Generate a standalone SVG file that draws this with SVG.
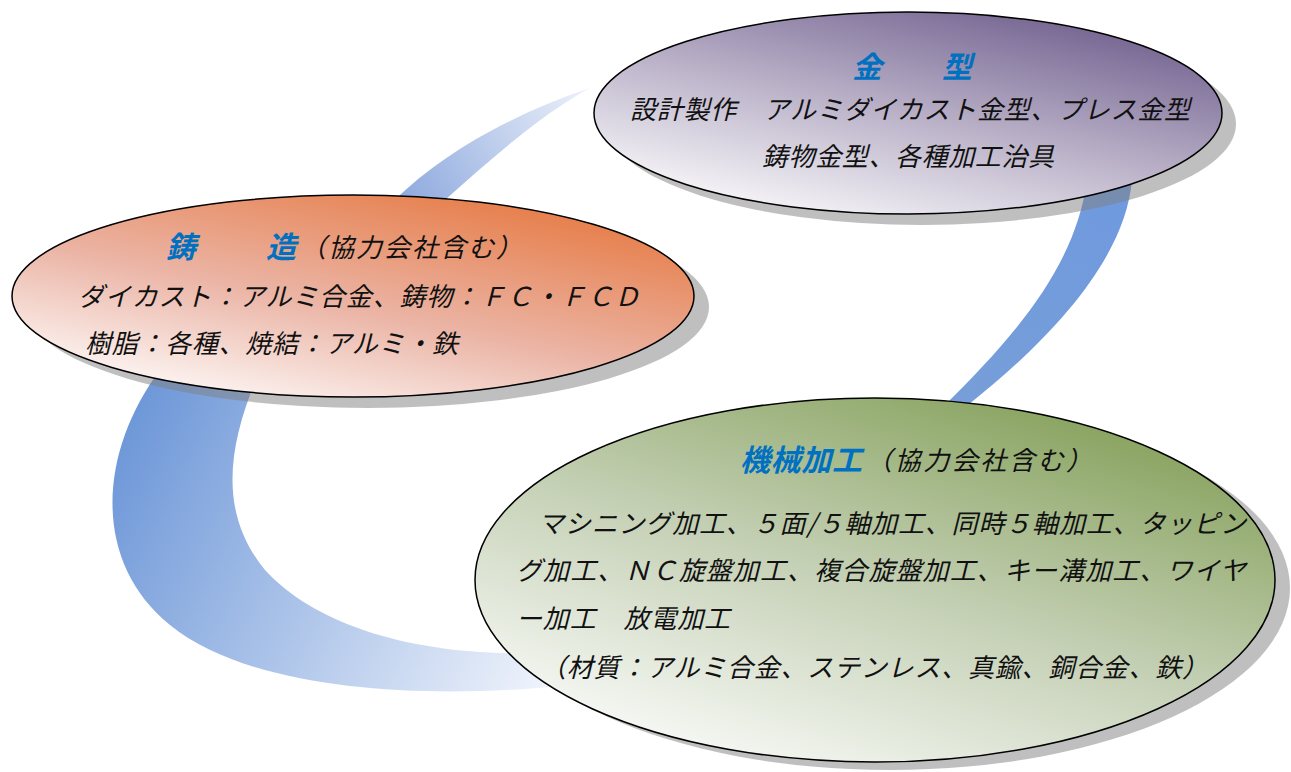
<svg xmlns="http://www.w3.org/2000/svg" width="1291" height="772" viewBox="0 0 1291 772">
<defs>
<linearGradient id="gPurple" x1="0.15" y1="1" x2="0.85" y2="0">
<stop offset="0" stop-color="#ffffff"/>
<stop offset="0.5" stop-color="#b9b0c7"/>
<stop offset="1" stop-color="#6b5a8a"/>
</linearGradient>
<linearGradient id="gOrange" x1="0.15" y1="1" x2="0.85" y2="0">
<stop offset="0" stop-color="#ffffff"/>
<stop offset="0.45" stop-color="#ebb5a6"/>
<stop offset="1" stop-color="#e6763d"/>
</linearGradient>
<linearGradient id="gGreen" x1="0.15" y1="1" x2="0.85" y2="0">
<stop offset="0" stop-color="#ffffff"/>
<stop offset="0.5" stop-color="#c3cfb3"/>
<stop offset="1" stop-color="#7f9c52"/>
</linearGradient>
<linearGradient id="gBandUp" gradientUnits="userSpaceOnUse" x1="590" y1="88" x2="400" y2="205">
<stop offset="0" stop-color="#eef2fa"/>
<stop offset="1" stop-color="#8ca8de"/>
</linearGradient>
<linearGradient id="gBandLow" gradientUnits="userSpaceOnUse" x1="110" y1="450" x2="560" y2="680">
<stop offset="0" stop-color="#6d97d8"/>
<stop offset="1" stop-color="#f2f5fc"/>
</linearGradient>
<linearGradient id="gBandRight" gradientUnits="userSpaceOnUse" x1="1110" y1="190" x2="955" y2="400">
<stop offset="0" stop-color="#6f9ade"/>
<stop offset="1" stop-color="#779ed8"/>
</linearGradient>
</defs>
<style>
.shadow{fill:#7f7f7f;fill-opacity:0.5}
.oval{stroke:#000;stroke-width:1.5}
.t{font-family:"Noto Sans CJK JP","Noto Sans CJK SC",sans-serif;font-style:italic;font-size:26px;fill:#111}
.h{font-family:"Noto Sans CJK JP","Noto Sans CJK SC",sans-serif;font-style:italic;font-weight:bold;font-size:30px;fill:#0070c0}
</style>
<rect width="1291" height="772" fill="#fff"/>
<g id="connectors">
<path d="M590,88 C510,115 440,155 395,200 L330,290 L410,290 L445,200 C490,160 540,115 590,88 Z" fill="url(#gBandUp)"/>
<path d="M160,370 C100,450 90,560 170,625 C250,690 420,700 560,686 L560,652 C430,660 320,630 265,570 C220,515 225,450 260,370 Z" fill="url(#gBandLow)"/>
<path d="M1087,180 C1075,270 1010,340 945,405 L968,405 C1050,340 1125,260 1132,180 Z" fill="url(#gBandRight)"/>
</g>
<g id="node-kanagata">
<ellipse class="shadow" cx="922" cy="124" rx="314" ry="101"/>
<ellipse class="oval" cx="908" cy="113" rx="314" ry="101" fill="url(#gPurple)"/>
<text class="h" y="78"><tspan x="852">金</tspan><tspan x="942">型</tspan></text>
<text class="t" x="630" y="119" textLength="560">設計製作　アルミダイカスト金型、プレス金型</text>
<text class="t" x="762" y="166" textLength="292">鋳物金型、各種加工治具</text>
</g>
<g id="node-chuzo">
<ellipse class="shadow" cx="368" cy="307" rx="341" ry="101"/>
<ellipse class="oval" cx="353" cy="296" rx="341" ry="101" fill="url(#gOrange)"/>
<text class="h" y="258"><tspan x="166">鋳</tspan><tspan x="266">造</tspan></text>
<text class="t" x="300" y="257" textLength="222">（協力会社含む）</text>
<text class="t" x="78" y="306" textLength="562">ダイカスト：アルミ合金、鋳物：ＦＣ・ＦＣＤ</text>
<text class="t" x="85" y="353" textLength="373">樹脂：各種、焼結：アルミ・鉄</text>
</g>
<g id="node-kikai">
<ellipse class="shadow" cx="890" cy="588" rx="400" ry="182"/>
<ellipse class="oval" cx="875" cy="580" rx="400" ry="182" fill="url(#gGreen)"/>
<text class="h" x="740" y="471" textLength="122">機械加工</text>
<text class="t" x="866" y="470" textLength="226">（協力会社含む）</text>
<text class="t" x="538" y="533" textLength="708">マシニング加工、５面/５軸加工、同時５軸加工、タッピン</text>
<text class="t" x="516" y="580" textLength="730">グ加工、ＮＣ旋盤加工、複合旋盤加工、キー溝加工、ワイヤ</text>
<text class="t" x="516" y="628" textLength="214">ー加工　放電加工</text>
<text class="t" x="540" y="677" textLength="668">（材質：アルミ合金、ステンレス、真鍮、銅合金、鉄）</text>
</g>
</svg>
